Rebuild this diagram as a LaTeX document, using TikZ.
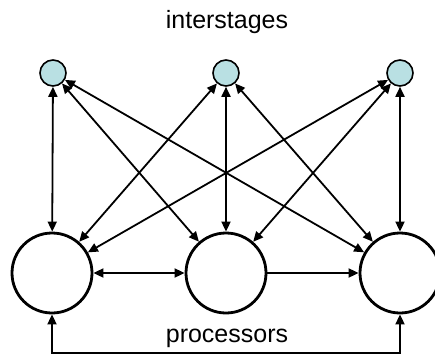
\documentclass[tikz,border=0pt]{standalone}
\usepackage{fontspec}
\setmainfont{Liberation Sans}
\usetikzlibrary{arrows.meta}
\definecolor{interfill}{RGB}{185,224,227}
\begin{document}
\begin{tikzpicture}[x=1pt,y=-1pt,
  small/.style={circle,draw=black,line width=1.6pt,fill=interfill,minimum size=26pt,inner sep=0pt},
  big/.style={circle,draw=black,line width=2.8pt,fill=white,minimum size=80pt,inner sep=0pt},
  link/.style={line width=1.8pt,{Triangle[length=10pt,width=9pt]}-{Triangle[length=10pt,width=9pt]}},
  onelink/.style={line width=1.8pt,-{Triangle[length=10pt,width=9pt]}},
  lbl/.style={font=\fontsize{25}{30}\selectfont,inner sep=0pt}]
\useasboundingbox (0,0) rectangle (435,356);
\node[small] (s1) at (53,73) {};
\node[small] (s2) at (226,73) {};
\node[small] (s3) at (400,73) {};
\node[big] (b1) at (52,273) {};
\node[big] (b2) at (226,273) {};
\node[big] (b3) at (400,273) {};
\node[lbl] (t1) at (227,22) {interstages};
\node[lbl] (t2) at (227,338) {processors};
\foreach \s in {s1,s2,s3}{
  \foreach \b in {b1,b2,b3}{
    \draw[link] (\s) -- (\b);
  }
}
\draw[link] (b1) -- (b2);
\draw[onelink] (b2) -- (b3);
\coordinate (c1) at (52,353);
\coordinate (c2) at (400,353);
\draw[link] (b1.south) -- (c1) -- (c2) -- (b3.south);
\end{tikzpicture}
\end{document}
